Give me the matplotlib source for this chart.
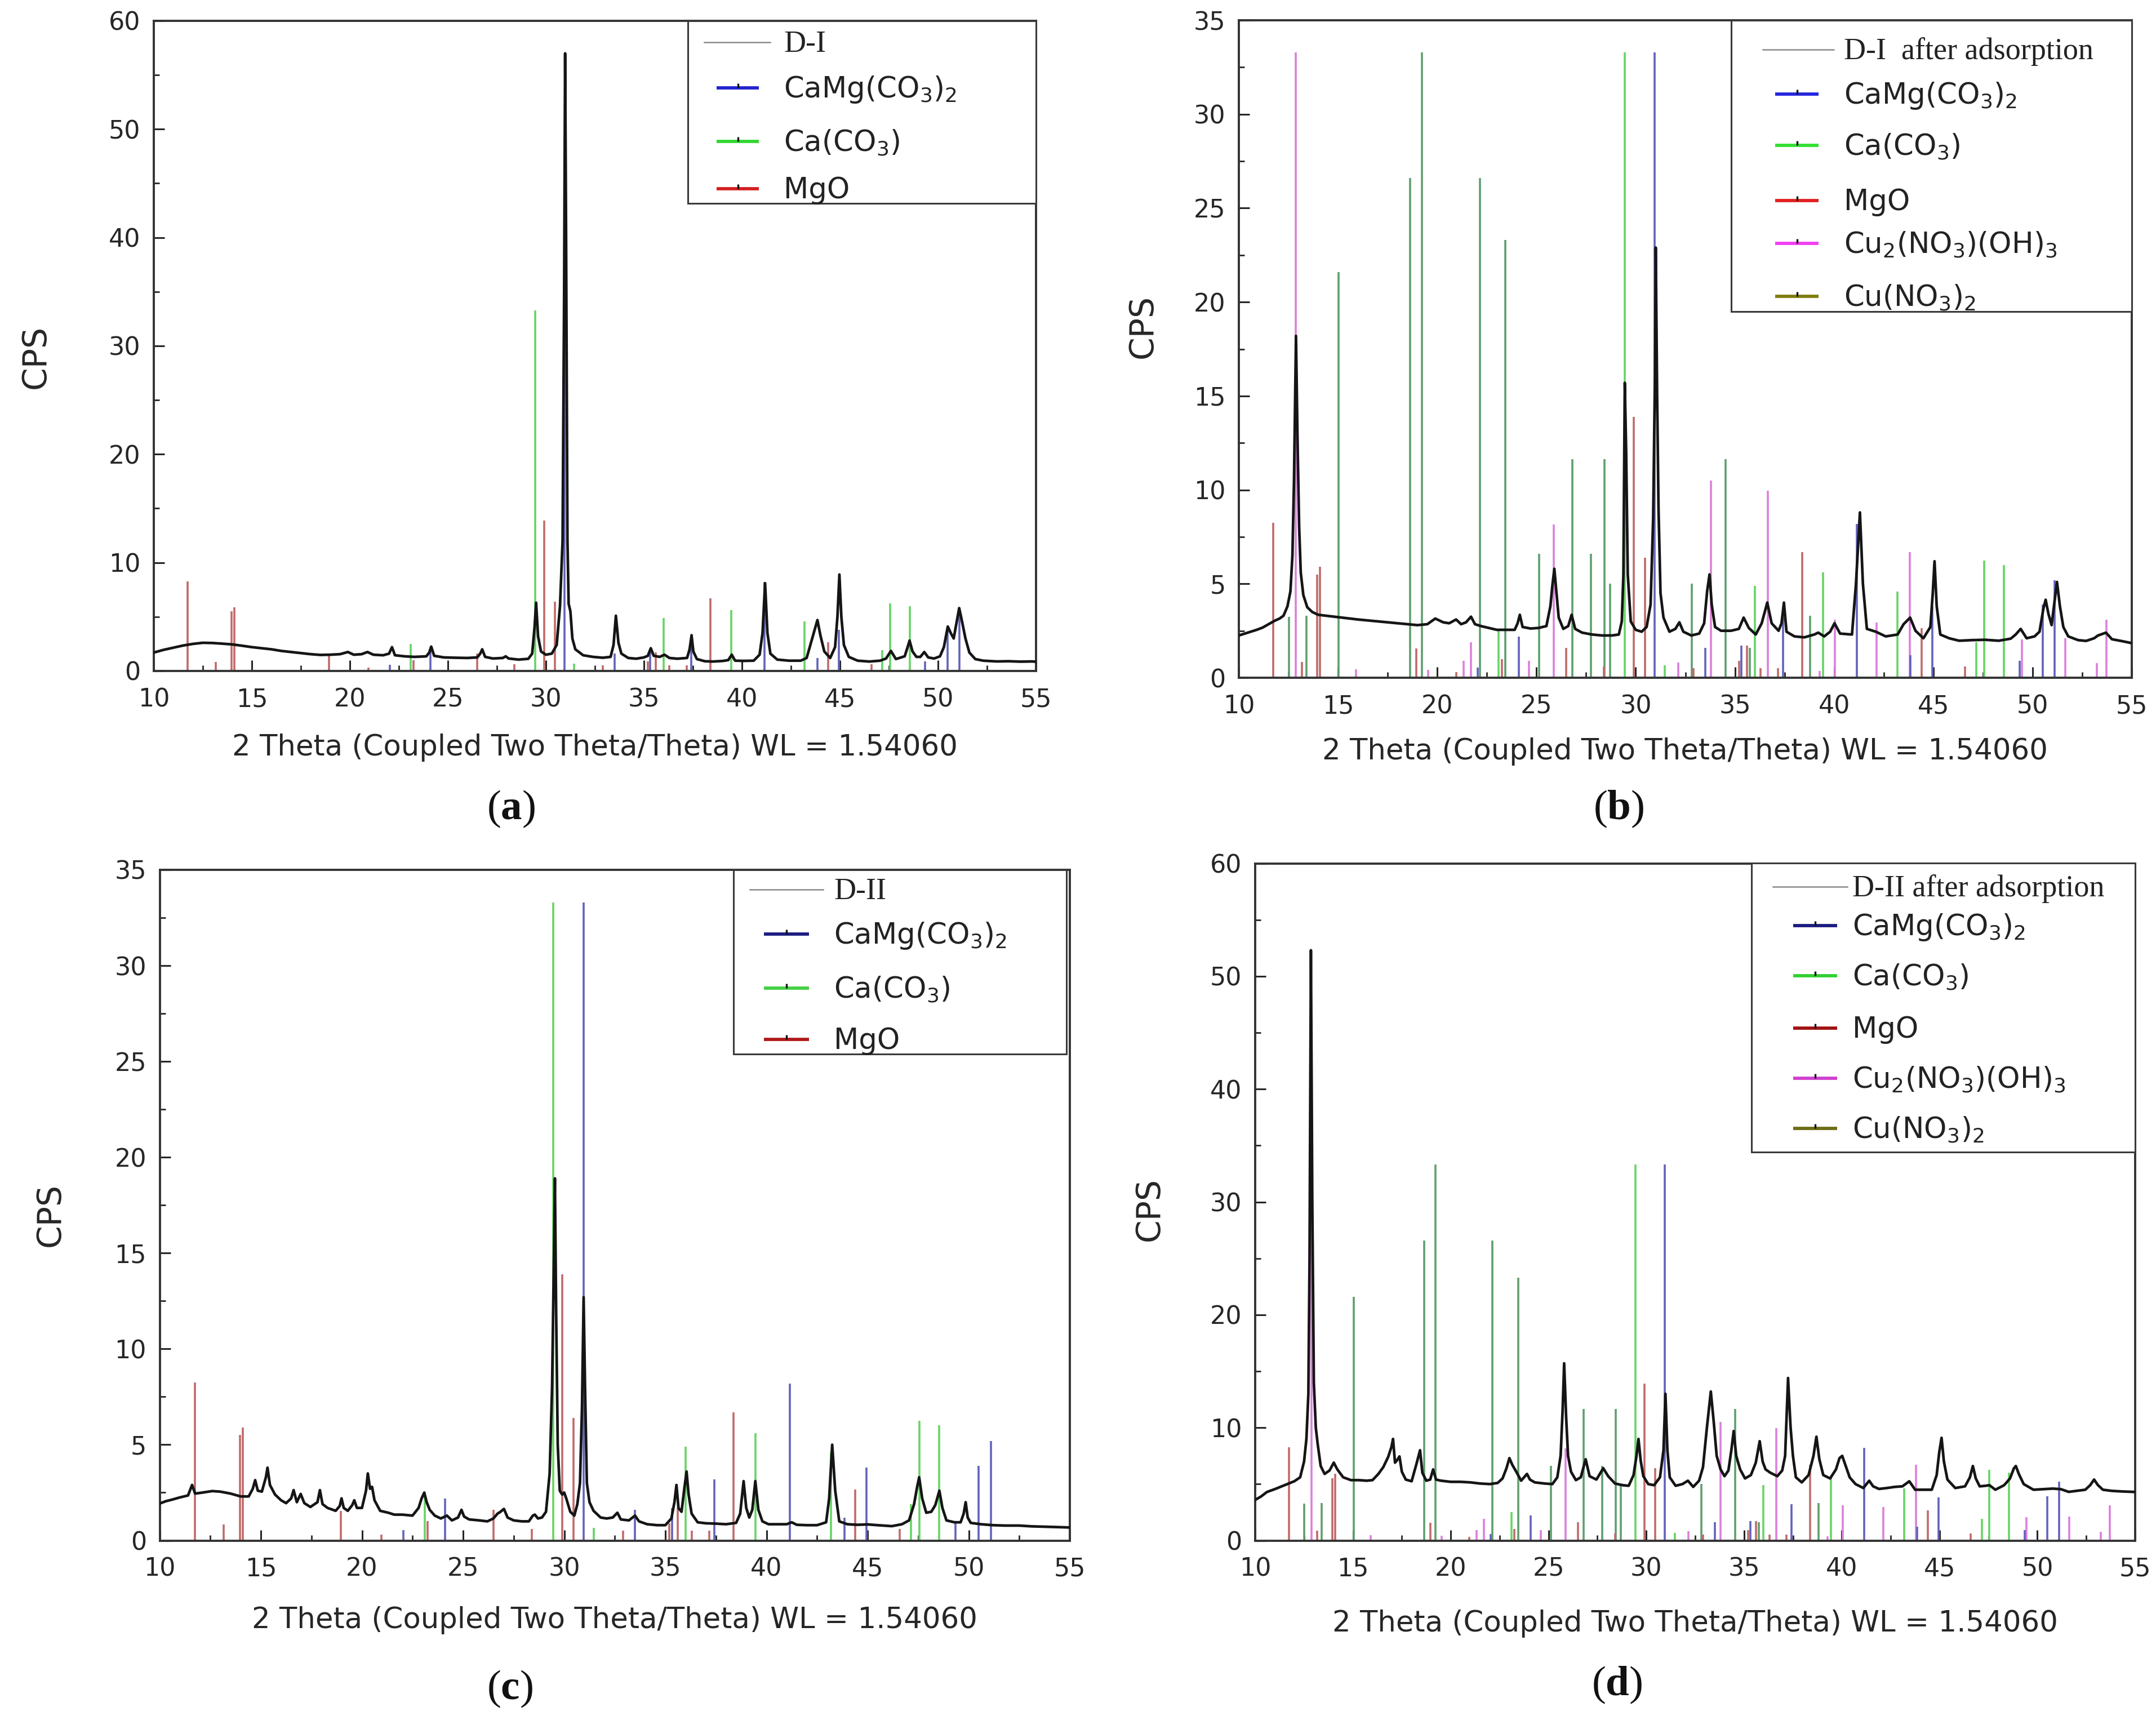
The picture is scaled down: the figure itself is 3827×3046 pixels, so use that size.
import matplotlib
matplotlib.use('Agg')
import matplotlib.pyplot as plt
from matplotlib.patches import Rectangle
from matplotlib.lines import Line2D
from matplotlib.ticker import MultipleLocator

plt.rcParams['font.family'] = ['DejaVu Sans']
plt.rcParams['mathtext.fontset'] = 'custom'
plt.rcParams['mathtext.default'] = 'regular'
plt.rcParams['mathtext.rm'] = 'DejaVu Sans'
plt.rcParams['mathtext.it'] = 'DejaVu Sans:italic'
plt.rcParams['mathtext.bf'] = 'Liberation Serif:bold'

# ---------------- reference stick patterns (2theta, CPS) ----------------
dol_pos = [22.05, 24.1, 30.95, 33.5, 35.33, 37.42, 41.15, 43.85, 44.95, 49.35, 50.5, 51.1]
dol_h   = [0.55, 2.2, 33.3, 1.6, 1.7, 3.2, 8.2, 1.2, 3.8, 0.9, 3.9, 5.2]

cal_pos = [23.1, 29.45, 31.45, 36.0, 39.45, 43.2, 47.15, 47.55, 48.55]
cal_h   = [2.5, 33.3, 0.65, 4.9, 5.6, 4.6, 1.9, 6.25, 6.0]

mgo_pos = [11.73, 13.17, 13.96, 14.1, 18.95, 20.95, 23.25, 26.5, 28.4, 29.9, 30.46,
           32.9, 35.2, 35.6, 36.3, 37.17, 38.38, 44.4, 46.6]
mgo_h   = [8.25, 0.85, 5.5, 5.9, 1.55, 0.3, 1.0, 1.6, 0.6, 13.9, 6.4,
           0.5, 0.9, 1.7, 0.5, 0.5, 6.7, 2.65, 0.6]

cuoh_pos = [12.88, 15.9, 19.55, 21.33, 21.7, 24.62, 25.88, 32.15, 33.8, 36.65, 39.27,
            40.05, 42.13, 43.8, 49.45, 51.64, 53.25, 53.71]
cuoh_h   = [33.3, 0.45, 0.42, 0.9, 1.9, 0.9, 8.15, 0.8, 10.5, 9.95, 0.36,
            3.1, 2.95, 6.7, 2.05, 2.1, 0.77, 3.1]

cuno_pos = [12.52, 13.4, 15.03, 18.64, 19.22, 22.14, 23.44, 25.13, 26.8, 27.74, 28.43,
            28.7, 32.82, 34.54, 35.75, 38.8]
cuno_h   = [3.25, 3.3, 21.6, 26.6, 33.3, 26.6, 23.3, 6.6, 11.65, 6.6, 11.65,
            5.0, 5.0, 11.65, 1.6, 3.3]

# ---------------- measured patterns ----------------
tt_a = [10.0, 10.5, 11.0, 11.5, 12.0, 12.5, 13.0, 13.5, 14.0, 14.5, 15.0, 15.5, 16.0, 16.5, 17.0,
        17.5, 18.0, 18.5, 19.0, 19.5, 19.9, 20.2, 20.6, 20.9, 21.2, 21.7, 22.0, 22.15, 22.3, 22.8,
        23.3, 23.9, 24.05, 24.15, 24.3, 24.8, 25.4, 26.0, 26.5, 26.65, 26.75, 26.9, 27.3, 27.8,
        27.95, 28.1, 28.6, 29.1, 29.3, 29.42, 29.5, 29.6, 29.75, 30.0, 30.3, 30.55, 30.72, 30.85,
        30.93, 30.98, 31.03, 31.1, 31.16, 31.25, 31.35, 31.5, 31.9, 32.4, 32.9, 33.3, 33.45, 33.57,
        33.7, 33.85, 34.2, 34.6, 35.0, 35.2, 35.35, 35.5, 35.8, 36.05, 36.3, 36.7, 37.2, 37.33,
        37.43, 37.52, 37.7, 38.1, 38.5, 39.0, 39.3, 39.48, 39.65, 40.1, 40.6, 40.9, 41.05, 41.18,
        41.3, 41.45, 41.8, 42.4, 43.0, 43.3, 43.6, 43.85, 44.0, 44.2, 44.5, 44.75, 44.87, 44.97,
        45.07, 45.2, 45.45, 45.9, 46.5, 47.05, 47.35, 47.6, 47.85, 48.3, 48.45, 48.55, 48.7, 48.9,
        49.1, 49.3, 49.5, 49.8, 50.1, 50.3, 50.5, 50.65, 50.8, 50.95, 51.08, 51.2, 51.4, 51.6,
        51.9, 52.3, 53.0, 53.6, 54.2, 54.8, 55.0]
cps_a = [1.7, 1.95, 2.15, 2.35, 2.5, 2.6, 2.58, 2.52, 2.45, 2.33, 2.2, 2.1, 2.0, 1.85, 1.75,
         1.65, 1.55, 1.48, 1.5, 1.55, 1.75, 1.5, 1.55, 1.75, 1.5, 1.45, 1.6, 2.2, 1.45, 1.35,
         1.3, 1.35, 1.7, 2.25, 1.4, 1.25, 1.22, 1.2, 1.25, 1.6, 2.0, 1.3, 1.15, 1.2,
         1.35, 1.15, 1.05, 1.12, 1.6, 4.0, 6.3, 3.2, 1.8, 1.5, 1.6, 2.4, 6.0, 12.0,
         35.0, 57.0, 40.0, 12.0, 6.2, 5.5, 3.0, 2.0, 1.45, 1.3, 1.22, 1.3, 2.4, 5.1,
         2.6, 1.6, 1.2, 1.13, 1.25, 1.4, 2.1, 1.4, 1.3, 1.5, 1.2, 1.13, 1.2, 2.0,
         3.3, 1.8, 1.1, 0.9, 0.87, 0.92, 1.0, 1.5, 0.95, 0.93, 0.95, 1.5, 3.5, 8.1,
         3.5, 1.6, 1.05, 0.95, 0.95, 1.2, 3.1, 4.7, 3.3, 1.8, 1.2, 2.2, 5.0, 8.9,
         5.0, 2.4, 1.3, 0.95, 0.87, 0.95, 1.15, 1.85, 1.1, 1.35, 2.2, 2.8, 1.8, 1.3,
         1.3, 1.75, 1.25, 1.15, 1.35, 2.2, 4.1, 3.5, 3.0, 4.5, 5.8, 4.8, 3.0, 1.7,
         1.1, 0.95, 0.88, 0.9, 0.86, 0.88, 0.85]

tt_b = [10.0, 10.3, 10.6, 10.9, 11.2, 11.5, 11.8, 12.05, 12.25, 12.45, 12.6, 12.7, 12.78, 12.88,
        12.96, 13.04, 13.12, 13.25, 13.45, 13.7, 14.0, 14.4, 14.8, 15.2, 15.6, 16.0, 16.5, 17.0,
        17.5, 18.0, 18.5, 19.0, 19.5, 19.9, 20.3, 20.6, 20.95, 21.2, 21.45, 21.7, 21.9, 22.2,
        22.6, 23.0, 23.5, 23.9, 24.05, 24.16, 24.3, 24.7, 25.1, 25.5, 25.7, 25.8, 25.9, 26.0,
        26.12, 26.35, 26.6, 26.77, 26.95, 27.3, 27.8, 28.3, 28.8, 29.15, 29.3, 29.38, 29.45,
        29.52, 29.6, 29.75, 30.0, 30.3, 30.55, 30.75, 30.88, 30.97, 31.01, 31.08, 31.15, 31.25,
        31.4, 31.7, 32.0, 32.2, 32.4, 32.8, 33.2, 33.45, 33.6, 33.72, 33.83, 34.0, 34.3, 34.8,
        35.2, 35.44, 35.7, 36.05, 36.35, 36.63, 36.85, 37.2, 37.35, 37.47, 37.6, 38.0, 38.5,
        39.0, 39.2, 39.5, 39.8, 40.02, 40.3, 40.9, 41.1, 41.3, 41.45, 41.65, 42.1, 42.6, 43.2,
        43.5, 43.83, 44.1, 44.5, 44.85, 44.97, 45.06, 45.17, 45.35, 45.8, 46.3, 46.9, 47.6,
        48.3, 48.9, 49.15, 49.4, 49.7, 50.1, 50.35, 50.55, 50.66, 50.8, 50.96, 51.1, 51.23,
        51.38, 51.55, 51.8, 52.3, 52.7, 53.1, 53.3, 53.7, 54.0, 54.5, 55.0]
cps_b = [2.25, 2.35, 2.45, 2.55, 2.67, 2.85, 3.03, 3.15, 3.3, 3.8, 4.6, 6.5, 10.5, 18.2,
         12.5, 8.0, 5.6, 4.4, 3.75, 3.5, 3.35, 3.3, 3.25, 3.2, 3.15, 3.1, 3.05, 3.0,
         2.95, 2.9, 2.85, 2.8, 2.85, 3.15, 2.95, 2.9, 3.1, 2.85, 2.95, 3.25, 2.85, 2.75,
         2.65, 2.55, 2.55, 2.55, 2.9, 3.35, 2.7, 2.62, 2.65, 2.75, 3.8, 4.9, 5.8, 4.6,
         3.2, 2.6, 2.75, 3.35, 2.6, 2.4, 2.3, 2.25, 2.25, 2.3, 3.0, 5.5, 15.7,
         12.0, 5.5, 3.0, 2.55, 2.45, 2.7, 3.9, 8.5, 16.0, 22.9, 15.0, 9.0, 4.5,
         3.2, 2.45, 2.6, 2.95, 2.45, 2.25, 2.35, 2.9, 4.6, 5.5, 3.9, 2.7, 2.5, 2.5,
         2.6, 3.2, 2.65, 2.3, 2.9, 4.0, 2.9, 2.5, 2.9, 4.0, 2.45, 2.2, 2.15,
         2.3, 2.4, 2.2, 2.45, 2.9, 2.35, 2.3, 5.0, 8.8, 5.0, 2.6, 2.45, 2.2, 2.3,
         2.85, 3.2, 2.5, 2.1, 2.7, 4.5, 6.2, 3.8, 2.3, 2.1, 1.97, 2.0, 2.02,
         1.97, 2.08, 2.3, 2.6, 2.1, 2.2, 2.45, 3.7, 4.15, 3.4, 2.8, 4.0, 5.1,
         3.8, 2.7, 2.2, 2.0, 1.96, 2.1, 2.25, 2.4, 2.05, 1.95, 1.84]

tt_c = [10.0, 10.3, 10.6, 11.0, 11.4, 11.6, 11.75, 12.1, 12.6, 13.0, 13.5, 14.0, 14.4, 14.6,
        14.72, 14.85, 15.05, 15.25, 15.33, 15.45, 15.7, 16.0, 16.25, 16.5, 16.62, 16.78, 16.97,
        17.15, 17.45, 17.8, 17.92, 18.05, 18.3, 18.7, 18.9, 18.99, 19.1, 19.3, 19.52, 19.62,
        19.75, 20.0, 20.2, 20.29, 20.4, 20.5, 20.62, 20.9, 21.3, 21.6, 22.0, 22.5, 22.8, 22.95,
        23.08, 23.2, 23.35, 23.6, 23.9, 24.2, 24.45, 24.75, 24.92, 25.05, 25.3, 25.8, 26.2,
        26.5, 26.7, 26.85, 27.02, 27.2, 27.5, 27.9, 28.25, 28.45, 28.55, 28.7, 28.9, 29.1,
        29.28, 29.4, 29.48, 29.54, 29.6, 29.68, 29.78, 29.9, 30.0, 30.1, 30.3, 30.5, 30.65,
        30.78, 30.88, 30.96, 31.03, 31.12, 31.25, 31.45, 31.8, 32.1, 32.4, 32.63, 32.8, 33.2,
        33.5, 33.7, 34.1, 34.6, 35.0, 35.3, 35.45, 35.55, 35.65, 35.8, 35.95, 36.05, 36.15,
        36.3, 36.6, 37.0, 37.5, 38.0, 38.5, 38.7, 38.87, 39.0, 39.15, 39.3, 39.45, 39.6, 39.8,
        40.1, 40.6, 41.0, 41.25, 41.5, 42.0, 42.5, 42.95, 43.1, 43.25, 43.4, 43.6, 44.0, 44.5,
        45.0, 45.5, 46.2, 46.7, 47.05, 47.3, 47.45, 47.55, 47.7, 47.9, 48.15, 48.35, 48.55,
        48.7, 48.9, 49.3, 49.6, 49.75, 49.85, 49.95, 50.1, 50.6, 51.2, 51.8, 52.5, 53.1, 53.8,
        54.4, 55.0]
cps_c = [1.93, 2.05, 2.13, 2.25, 2.35, 2.9, 2.45, 2.5, 2.58, 2.55, 2.45, 2.3, 2.3, 2.7,
         3.15, 2.6, 2.55, 3.3, 3.8, 2.9, 2.4, 2.1, 1.95, 2.2, 2.63, 2.0, 2.43,
         1.95, 1.75, 2.0, 2.63, 1.9, 1.7, 1.55, 1.8, 2.2, 1.7, 1.55, 1.85, 2.1,
         1.7, 1.7, 2.6, 3.5, 2.7, 2.8, 2.1, 1.55, 1.45, 1.35, 1.35, 1.3, 1.7, 2.2,
         2.5, 2.0, 1.6, 1.3, 1.15, 1.3, 1.05, 1.2, 1.6, 1.25, 1.1, 1.05, 1.0,
         1.15, 1.4, 1.5, 1.65, 1.2, 1.05, 1.0, 1.0, 1.3, 1.35, 1.15, 1.2, 1.5,
         3.5, 8.0, 14.0, 18.9, 12.0, 5.0, 2.6, 2.4, 2.5, 2.2, 1.5, 1.3, 1.9,
         3.0, 7.0, 12.7, 8.0, 3.0, 2.0, 1.55, 1.2, 1.15, 1.2, 1.45, 1.1, 1.05,
         1.3, 1.0, 0.85, 0.8, 0.8, 1.15, 2.0, 2.9, 1.7, 1.5, 2.8, 3.6, 2.4,
         1.4, 0.95, 0.9, 0.88, 0.85, 0.92, 1.4, 3.1, 1.7, 1.2, 1.6, 3.1, 1.6, 1.0,
         0.85, 0.85, 0.85, 0.95, 0.82, 0.8, 0.8, 0.95, 2.2, 5.0, 2.6, 1.0, 0.85, 0.82,
         0.84, 0.8, 0.75, 0.85, 1.05, 1.9, 2.8, 3.3, 2.2, 1.45, 1.5, 1.85, 2.6,
         1.7, 1.05, 0.95, 0.95, 1.4, 2.0, 1.2, 0.92, 0.85, 0.8, 0.78, 0.78, 0.74, 0.72,
         0.7, 0.68]

tt_d = [10.0, 10.3, 10.6, 11.0, 11.5, 12.0, 12.3, 12.5, 12.62, 12.72, 12.78, 12.85, 12.92, 13.0,
        13.1, 13.2, 13.35, 13.55, 13.8, 14.02, 14.2, 14.5, 14.9, 15.3, 15.7, 16.0, 16.3, 16.55,
        16.8, 16.97, 17.05, 17.15, 17.25, 17.38, 17.5, 17.7, 18.0, 18.25, 18.43, 18.55, 18.75,
        18.95, 19.1, 19.25, 19.5, 20.0, 20.5, 21.0, 21.5, 22.0, 22.4, 22.65, 22.85, 23.0, 23.15,
        23.35, 23.6, 23.9, 24.05, 24.3, 24.8, 25.2, 25.45, 25.62, 25.72, 25.8, 25.9, 26.0,
        26.15, 26.4, 26.65, 26.9, 27.1, 27.45, 27.8, 28.05, 28.4, 28.8, 29.1, 29.35, 29.5,
        29.6, 29.72, 29.85, 30.1, 30.4, 30.7, 30.88, 30.98, 31.08, 31.2, 31.5, 31.85, 32.13,
        32.4, 32.7, 32.9, 33.1, 33.3, 33.45, 33.6, 33.8, 34.0, 34.2, 34.35, 34.47, 34.6, 34.8,
        35.05, 35.35, 35.6, 35.8, 35.95, 36.1, 36.35, 36.7, 36.95, 37.1, 37.25, 37.38, 37.5,
        37.65, 37.95, 38.3, 38.55, 38.7, 38.85, 39.05, 39.4, 39.7, 39.88, 40.02, 40.2, 40.4,
        40.7, 41.1, 41.4, 41.6, 41.9, 42.3, 42.7, 43.1, 43.45, 43.75, 44.2, 44.6, 44.85,
        44.98, 45.1, 45.22, 45.4, 45.8, 46.3, 46.55, 46.7, 46.85, 47.05, 47.35, 47.55, 47.85,
        48.3, 48.6, 48.8, 48.9, 49.05, 49.3, 49.8, 50.3, 50.8, 51.2, 51.6, 52.0, 52.45, 52.7,
        52.9, 53.1, 53.35, 53.8, 54.3, 54.9, 55.0]
cps_d = [3.6, 3.9, 4.3, 4.55, 4.9, 5.25, 5.6, 7.0, 9.0, 13.0, 25.0, 52.3, 30.0, 14.0,
         10.0, 8.5, 6.6, 5.9, 6.2, 6.9, 6.3, 5.6, 5.35, 5.35, 5.3, 5.35, 5.9, 6.5,
         7.4, 8.3, 9.0, 6.9, 7.1, 7.45, 6.1, 5.4, 5.25, 6.8, 8.0, 6.0, 5.3,
         5.4, 6.3, 5.4, 5.3, 5.2, 5.2, 5.15, 5.05, 5.0, 5.1, 5.5, 6.4, 7.3, 6.7,
         6.1, 5.3, 5.9, 5.4, 5.15, 5.05, 5.0, 5.6, 7.5, 11.5, 15.7, 11.0, 7.5,
         6.1, 5.35, 5.6, 7.2, 5.7, 5.4, 6.4, 5.7, 5.05, 4.9, 4.85, 5.8, 7.5,
         9.0, 7.0, 5.7, 5.0, 4.9, 5.6, 8.0, 13.0, 8.0, 5.6, 4.85, 5.0, 5.3,
         4.75, 5.3, 6.5, 10.0, 13.2, 10.5, 7.5, 6.3, 5.7, 6.2, 8.0, 9.7, 7.5, 6.3,
         5.5, 5.8, 6.9, 8.8, 7.0, 6.3, 6.0, 5.7, 6.2, 7.5, 14.4, 10.0, 7.5,
         5.6, 5.15, 5.8, 7.5, 9.2, 7.2, 5.8, 5.5, 6.3, 7.3, 7.5, 6.6, 5.6,
         5.0, 4.65, 5.3, 4.8, 4.57, 4.65, 4.75, 4.8, 5.25, 4.5, 4.5, 4.5, 5.8,
         7.8, 9.1, 7.0, 5.4, 4.65, 4.8, 5.6, 6.6, 5.5, 4.8, 4.85, 4.9, 4.5,
         4.9, 5.5, 6.4, 6.6, 5.9, 5.0, 4.5, 4.55, 4.6, 4.55, 4.31, 4.4, 4.5, 4.9,
         5.4, 4.9, 4.5, 4.4, 4.35, 4.31, 4.3]

# ---------------- labels ----------------
x_label = '2 Theta (Coupled Two Theta/Theta) WL = 1.54060'
y_label = 'CPS'
sample_names = ['D-I', 'D-I  after adsorption', 'D-II', 'D-II after adsorption']
phase_names = ['CaMg(CO$_3$)$_2$', 'Ca(CO$_3$)', 'MgO', 'Cu$_2$(NO$_3$)(OH)$_3$', 'Cu(NO$_3$)$_2$']
panel_letters = ['a', 'b', 'c', 'd']

# ---------------- styling / layout ----------------
W, H = 3827, 3046
DPI = 100
stick_colors = ['#6262bc', '#66d466', '#c06a6a', '#dc80dc', '#5e9f6e']
legend_colors = {
    'a': ['#2323d0', '#33d633', '#d42020'],
    'b': ['#2626e0', '#33e033', '#e02020', '#f040f0', '#7f7d10'],
    'c': ['#1c1c80', '#44d044', '#b01a1a'],
    'd': ['#1c1c80', '#33d033', '#a01212', '#d040d0', '#6f6c14'],
}

panels = {
    'a': dict(box=(273, 37, 1839, 1191), ymax=60, ymaj=10, ymin=5,
              tt=tt_a, cps=cps_a, nph=3,
              leg=(1221, 37, 1839, 361), rows=[75, 156, 251, 335],
              sline=(1250, 1367), pline=(1272, 1347), tx=1391,
              ylab=(63, 633), xlab=(1056, 1327), plab=(907, 1436)),
    'b': dict(box=(2199, 36, 3784, 1203), ymax=35, ymaj=5, ymin=2.5,
              tt=tt_b, cps=cps_b, nph=5,
              leg=(3073, 36, 3784, 553), rows=[88, 167, 258, 356, 432, 526],
              sline=(3129, 3255), pline=(3151, 3228), tx=3273,
              ylab=(2028, 579), xlab=(2991, 1334), plab=(2873, 1436)),
    'c': dict(box=(283.5, 1544, 1899, 2734.5), ymax=35, ymaj=5, ymin=2.5,
              tt=tt_c, cps=cps_c, nph=3,
              leg=(1302, 1544, 1893, 1871), rows=[1579, 1658, 1754, 1845],
              sline=(1331, 1461), pline=(1356, 1436), tx=1480,
              ylab=(89.5, 2156), xlab=(1091, 2876), plab=(905, 2998)),
    'd': dict(box=(2228, 1532.5, 3790, 2734.5), ymax=60, ymaj=10, ymin=5,
              tt=tt_d, cps=cps_d, nph=5,
              leg=(3109, 1532.5, 3790, 2045), rows=[1574, 1643, 1732, 1825, 1914, 2003],
              sline=(3147, 3279), pline=(3183, 3261), tx=3288,
              ylab=(2040, 2146), xlab=(3009, 2882), plab=(2870, 2991)),
}

stick_sets = [(dol_pos, dol_h), (cal_pos, cal_h), (mgo_pos, mgo_h),
              (cuoh_pos, cuoh_h), (cuno_pos, cuno_h)]

fig = plt.figure(figsize=(W / DPI, H / DPI), dpi=DPI)


def to_ax(box, x, y):
    l, t, r, b = box
    return (x - l) / (r - l), (b - y) / (b - t)


for i, key in enumerate(['a', 'b', 'c', 'd']):
    p = panels[key]
    l, t, r, b = p['box']
    ax = fig.add_axes([l / W, 1 - b / H, (r - l) / W, (b - t) / H])
    ax.set_xlim(10, 55)
    ax.set_ylim(0, p['ymax'])

    # sticks: tall Cu(NO3)2 first, dolomite last
    order = [4, 3, 1, 2, 0] if p['nph'] == 5 else [1, 2, 0]
    for k in order:
        pos, hh = stick_sets[k]
        ax.vlines(pos, 0, hh, colors=stick_colors[k], lw=2.6, zorder=2)

    ax.plot(p['tt'], p['cps'], color='#151515', lw=3.4, zorder=3,
            solid_joinstyle='round')

    # axes styling
    for s in ax.spines.values():
        s.set_linewidth(2.8)
        s.set_color('#333333')
    ax.xaxis.set_major_locator(MultipleLocator(5))
    ax.xaxis.set_minor_locator(MultipleLocator(2.5))
    ax.yaxis.set_major_locator(MultipleLocator(p['ymaj']))
    ax.yaxis.set_minor_locator(MultipleLocator(p['ymin']))
    ax.tick_params(which='both', direction='in', top=False, right=False,
                   colors='#262626', labelsize=32)
    ax.tick_params(which='major', length=14, width=2.2)
    ax.tick_params(which='minor', length=7, width=2.0)
    ax.tick_params(axis='x', which='major', pad=21)
    ax.tick_params(axis='y', which='major', pad=17)

    # axis labels
    yx, yy = to_ax(p['box'], *p['ylab'])
    ax.set_ylabel(y_label, fontsize=42, color='#262626', rotation=90,
                  va='center', ha='center')
    ax.yaxis.set_label_coords(yx, yy)
    xx, xy = to_ax(p['box'], *p['xlab'])
    ax.set_xlabel(x_label, fontsize=37, color='#262626', va='center', ha='center')
    ax.xaxis.set_label_coords(xx, xy)

    # legend (drawn manually to match the box geometry)
    lx0, ly0, lx1, ly1 = p['leg']
    bx0, by1 = to_ax(p['box'], lx0, ly0)
    bx1, by0 = to_ax(p['box'], lx1, ly1)
    ax.add_patch(Rectangle((bx0, by0), bx1 - bx0, by1 - by0, transform=ax.transAxes,
                           facecolor='white', edgecolor='#3a3a3a', lw=2.2,
                           clip_on=False, zorder=10))
    rows = p['rows']
    sx0, sy = to_ax(p['box'], p['sline'][0], rows[0])
    sx1, _ = to_ax(p['box'], p['sline'][1], rows[0])
    ax.add_line(Line2D([sx0, sx1], [sy, sy], transform=ax.transAxes, color='#8a8a8a',
                       lw=1.8, clip_on=False, zorder=11))
    tx, ty = to_ax(p['box'], p['tx'], rows[0] + 17)
    ax.text(tx, ty, sample_names[i], transform=ax.transAxes, fontsize=39,
            family=['Liberation Serif', 'DejaVu Serif'], color='#222222',
            va='baseline', ha='left', zorder=12)
    cols = legend_colors[key]
    for j in range(p['nph']):
        yrow = rows[j + 1]
        px0, py = to_ax(p['box'], p['pline'][0], yrow)
        px1, _ = to_ax(p['box'], p['pline'][1], yrow)
        ax.add_line(Line2D([px0, px1], [py, py], transform=ax.transAxes, color=cols[j],
                           lw=4.2, clip_on=False, zorder=11, solid_capstyle='butt'))
        ax.add_line(Line2D([(px0 + px1) / 2], [py], transform=ax.transAxes, color='#111111',
                           marker=2, markersize=6, mew=2.4, lw=0, clip_on=False, zorder=12))
        tx, ty = to_ax(p['box'], p['tx'], yrow + 17)
        ax.text(tx, ty, phase_names[j], transform=ax.transAxes, fontsize=37,
                color='#222222', va='baseline', ha='left', zorder=12)

    # panel letter
    fig.text(p['plab'][0] / W, 1 - p['plab'][1] / H,
             '($\\mathbf{' + panel_letters[i] + '}$)', fontsize=54,
             family=['Liberation Serif', 'DejaVu Serif'], color='#111111',
             ha='center', va='center')

fig.savefig('out.png', dpi=DPI)
